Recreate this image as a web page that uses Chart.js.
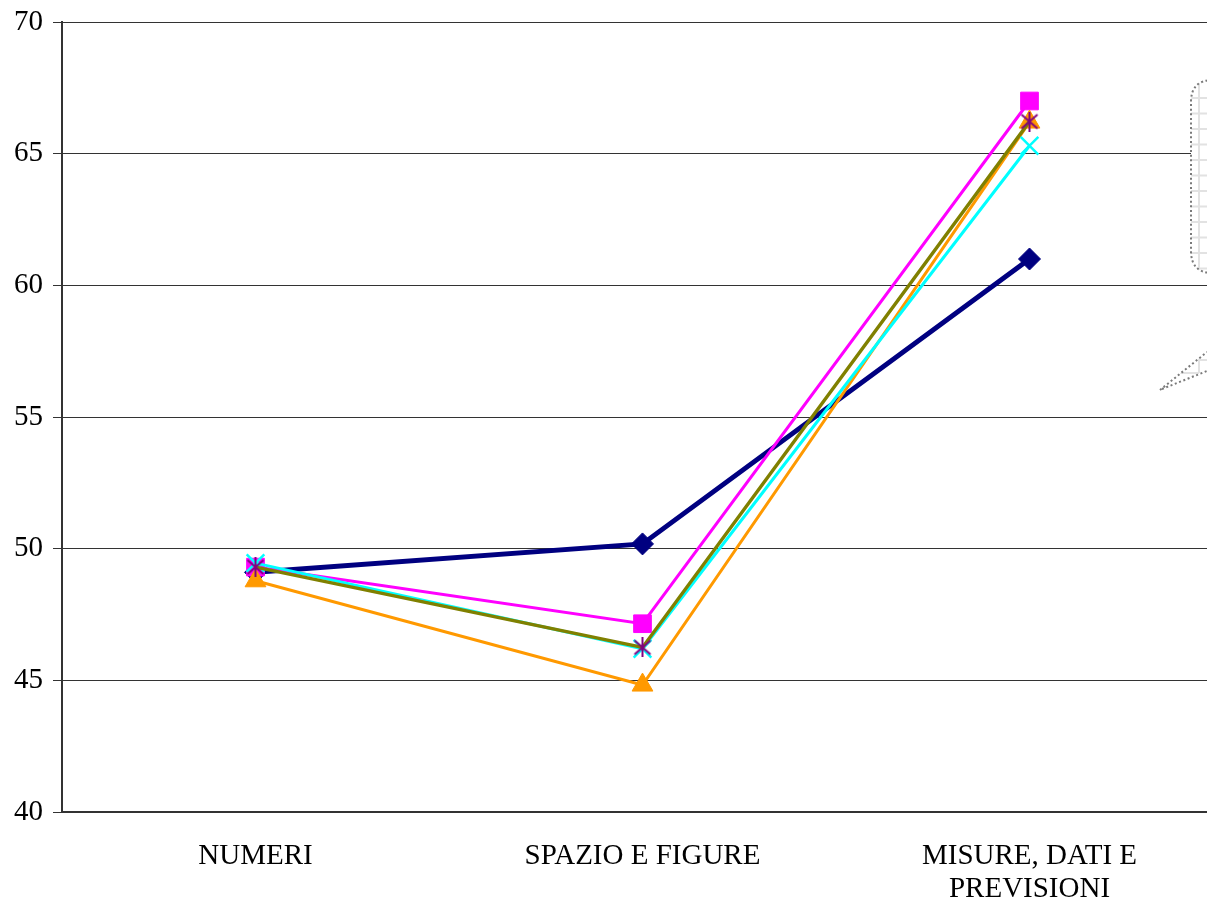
<!DOCTYPE html>
<html>
<head>
<meta charset="utf-8">
<script src="https://cdn.jsdelivr.net/npm/chart.js@4"></script>
<style>
  html, body { margin: 0; padding: 0; background: #fff; overflow: hidden; }
  #wrap { width: 1207px; height: 905px; overflow: hidden; position: relative; }
  canvas { display: block; }
</style>
</head>
<body>
<div id="wrap"><canvas id="c" width="1240" height="905"></canvas></div>
<script>
// Categories and the five score series
const categories = ['NUMERI', 'SPAZIO E FIGURE', ['MISURE, DATI E', 'PREVISIONI']];
const serieBlu     = [49.1, 50.18, 61.0];
const serieMagenta = [49.3, 47.15, 67.0];
const serieArancio = [48.78, 44.82, 66.2];
const serieCiano   = [49.45, 46.2, 65.3];
const serieOliva   = [49.3, 46.25, 66.22];
const yTicks = [40, 45, 50, 55, 60, 65, 70];

// Asterisk marker: an X with a vertical stroke
function asterisk(color, size) {
  const c = document.createElement('canvas');
  c.width = size; c.height = size;
  const g = c.getContext('2d');
  g.strokeStyle = color; g.lineWidth = 2;
  const m = 2, s = size - 2;
  g.beginPath();
  g.moveTo(m, m + 1); g.lineTo(s, s - 1);
  g.moveTo(s, m + 1); g.lineTo(m, s - 1);
  g.moveTo(size / 2, 0); g.lineTo(size / 2, size);
  g.stroke();
  return c;
}
const starImg = asterisk('#800080', 20);

// Dotted, grid-filled callout box at the right edge (legend panel)
const calloutPlugin = {
  id: 'callout',
  afterDraw(chart) {
    const ctx = chart.ctx;
    ctx.save();
    // tail
    const tail = new Path2D();
    tail.moveTo(1160, 390);
    tail.lineTo(1207, 352);
    tail.lineTo(1207, 372);
    tail.closePath();
    // box
    const box = new Path2D();
    const x0 = 1191, y0 = 80, x1 = 1300, y1 = 273, r = 22;
    box.moveTo(x0 + r, y0);
    box.lineTo(x1, y0);
    box.lineTo(x1, y1);
    box.lineTo(x0 + r, y1);
    box.quadraticCurveTo(x0, y1, x0, y1 - r);
    box.lineTo(x0, y0 + r);
    box.quadraticCurveTo(x0, y0, x0 + r, y0);
    box.closePath();
    ctx.fillStyle = '#fff';
    ctx.fill(box);
    ctx.fill(tail);
    // faint grid pattern inside
    ctx.save();
    ctx.clip(box);
    ctx.strokeStyle = '#e2e2e2';
    ctx.lineWidth = 2;
    ctx.beginPath();
    for (let y = 98; y < 275; y += 15.5) { ctx.moveTo(x0, y); ctx.lineTo(1240, y); }
    ctx.moveTo(1199, y0); ctx.lineTo(1199, y1);
    ctx.stroke();
    ctx.restore();
    ctx.save();
    ctx.clip(tail);
    ctx.strokeStyle = '#e2e2e2';
    ctx.lineWidth = 2;
    ctx.beginPath();
    ctx.moveTo(1199, 358); ctx.lineTo(1199, 373);
    ctx.moveTo(1178, 373); ctx.lineTo(1199, 373);
    ctx.moveTo(1199, 360); ctx.lineTo(1210, 360);
    ctx.stroke();
    ctx.restore();
    // dotted outlines
    ctx.strokeStyle = '#7a7a7a';
    ctx.lineWidth = 2;
    ctx.setLineDash([2, 2.6]);
    ctx.stroke(box);
    ctx.beginPath();
    ctx.moveTo(1160, 390); ctx.lineTo(1207, 352);
    ctx.moveTo(1162, 389); ctx.lineTo(1207, 371);
    ctx.stroke();
    ctx.restore();
  }
};

const font = { family: '"Liberation Serif", "DejaVu Serif", serif', size: 29 };

new Chart(document.getElementById('c'), {
  type: 'line',
  data: {
    labels: categories,
    datasets: [
      { data: serieOliva, borderColor: '#808000', borderWidth: 3.5, pointStyle: starImg,
        pointRadius: 10, pointHoverRadius: 10, order: 1 },
      { data: serieCiano, borderColor: '#00FFFF', borderWidth: 3, pointStyle: 'crossRot',
        pointRadius: 12.5, pointBorderWidth: 2.5, pointBorderColor: '#00FFFF', order: 2 },
      { data: serieArancio, borderColor: '#FF9900', backgroundColor: '#FF9900', borderWidth: 3,
        pointStyle: 'triangle', pointRadius: 12, pointBorderWidth: 1, order: 3 },
      { data: serieMagenta, borderColor: '#FF00FF', backgroundColor: '#FF00FF', borderWidth: 3,
        pointStyle: 'rect', pointRadius: 12.5, pointBorderWidth: 1, order: 4 },
      { data: serieBlu, borderColor: '#000080', backgroundColor: '#000080', borderWidth: 5,
        pointStyle: 'rectRot', pointRadius: 11, pointBorderWidth: 1, order: 5 }
    ]
  },
  options: {
    responsive: false,
    devicePixelRatio: 1,
    animation: false,
    events: [],
    layout: { padding: { top: 22, left: 14, right: 17, bottom: 0 } },
    plugins: { legend: { display: false }, tooltip: { enabled: false } },
    elements: { line: { tension: 0, fill: false } },
    scales: {
      x: {
        offset: true,
        afterFit(scale) { scale.height = 93; },
        grid: { display: false, drawTicks: false },
        border: { display: true, color: '#333', width: 2 },
        ticks: { color: '#000', font: { ...font, lineHeight: 33 / 29 }, padding: 28, maxRotation: 0, autoSkip: false }
      },
      y: {
        min: 40, max: 70,
        afterBuildTicks(scale) { scale.ticks = yTicks.map(v => ({ value: v })); },
        afterFit(scale) { scale.width = 48; scale.paddingTop = 0; scale.paddingBottom = 0; },
        grid: { color: '#333', lineWidth: 1, tickLength: 9, drawTicks: true },
        border: { display: true, color: '#333', width: 2 },
        ticks: { color: '#000', font, padding: 10 }
      }
    }
  },
  plugins: [calloutPlugin]
});
</script>
</body>
</html>
